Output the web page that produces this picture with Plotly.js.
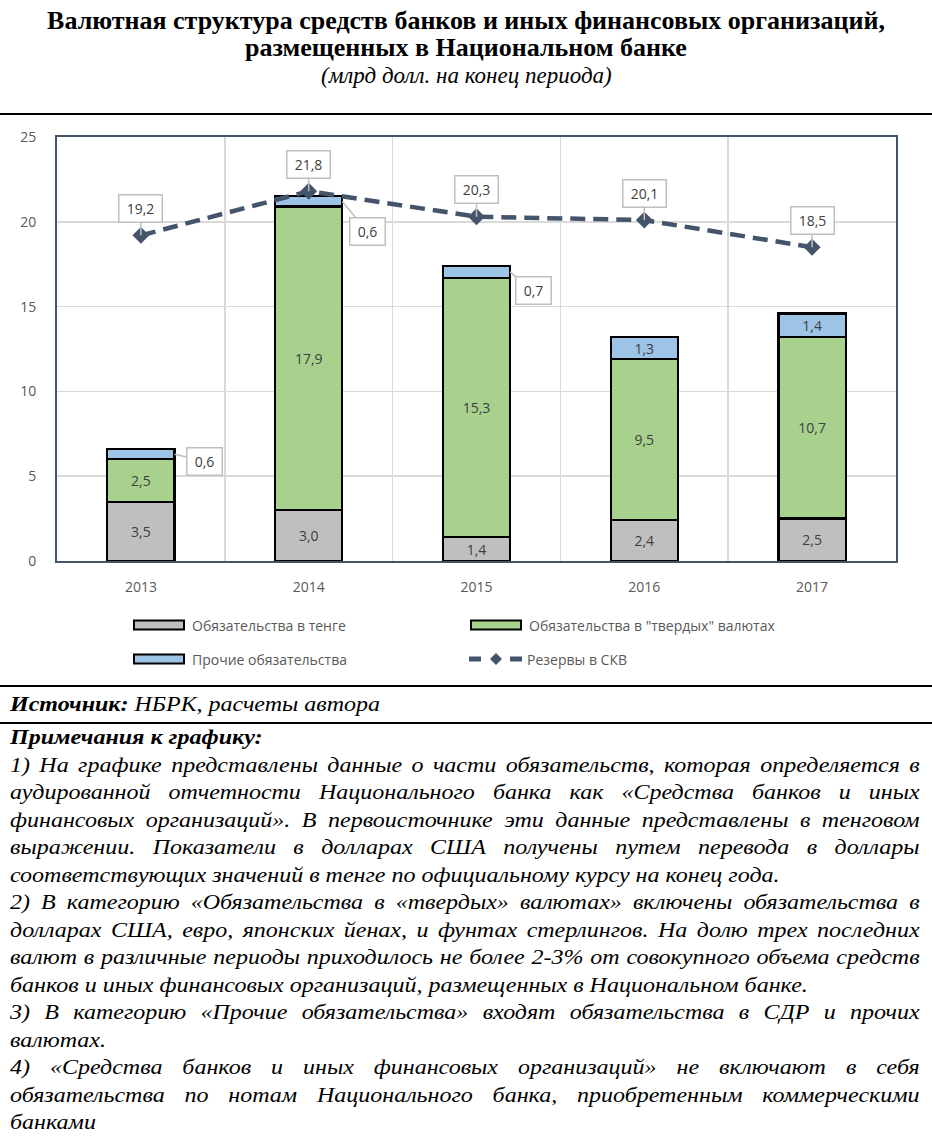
<!DOCTYPE html>
<html>
<head>
<meta charset="utf-8">
<script src="https://cdn.plot.ly/plotly-3.0.1.min.js"></script>
<style>
  html, body { margin: 0; padding: 0; background: #fff; }
  #chart { width: 932px; height: 685px; }
  #src { border-top: 2px solid #000; border-bottom: 2px solid #000; height: 35px; line-height: 35px;
         font-family: 'Liberation Serif', 'Times New Roman', serif; font-style: italic; font-size: 20px; padding-left: 10px; overflow: hidden; }
  #notes { padding: 0 10px; font-family: 'Liberation Serif', 'Times New Roman', serif; font-style: italic;
           font-size: 20px; line-height: 27.5px; text-align: justify; }
  .sx { width: 758px; transform: scaleX(1.2); transform-origin: 0 0; }
  #notes p { margin: 0; }
</style>
</head>
<body>
<div id="chart"></div>
<div id="src"><div class="sx"><b>Источник:</b> НБРК, расчеты автора</div></div>
<div id="notes"><div class="sx">
  <p><b>Примечания к графику:</b></p>
  <p>1) На графике представлены данные о части обязательств, которая определяется в аудированной отчетности Национального банка как «Средства банков и иных финансовых организаций». В первоисточнике эти данные представлены в тенговом выражении. Показатели в долларах США получены путем перевода в доллары соответствующих значений в тенге по официальному курсу на конец года.</p>
  <p>2) В категорию «Обязательства в «твердых» валютах» включены обязательства в долларах США, евро, японских йенах, и фунтах стерлингов. На долю трех последних валют в различные периоды приходилось не более 2-3% от совокупного объема средств банков и иных финансовых организаций, размещенных в Национальном банке.</p>
  <p>3) В категорию «Прочие обязательства» входят обязательства в СДР и прочих валютах.</p>
  <p>4) «Средства банков и иных финансовых организаций» не включают в себя обязательства по нотам Национального банка, приобретенным коммерческими банками</p>
</div></div>
<script>
// ---- data ----
const years = ['2013', '2014', '2015', '2016', '2017'];
const tenge = [3.5, 3.0, 1.4, 2.4, 2.5];
const hard = [2.5, 17.9, 15.3, 9.5, 10.7];
const other = [0.6, 0.6, 0.7, 1.3, 1.4];
const reserves = [19.2, 21.8, 20.3, 20.1, 18.5];
const otherInside = [false, false, false, true, true];
const names = ['Обязательства в тенге', 'Обязательства в "твердых" валютах', 'Прочие обязательства', 'Резервы в СКВ'];
const titleLines = ['Валютная структура средств банков и иных финансовых организаций,', 'размещенных в Национальном банке'];
const subtitle = '(млрд долл. на конец периода)';

// ---- style ----
const C_GRAY = '#bfbfbf', C_GREEN = '#a9d18e', C_BLUE = '#9dc3e6', C_LINE = '#44546a';
const TXT = '#404040', AX = '#595959';
const FONT = 'Open Sans, Noto Sans, sans-serif';
const SERIF = 'Liberation Serif, Times New Roman, serif';
const BAR_W = 0.4;
const PL = 57, PT = 137, PW = 839, PH = 424, W = 932, H = 685;
const px2x = p => (p - PL) / PW;
const px2y = p => (PT + PH - p) / PH;
const fmt = v => v.toFixed(1).replace('.', ',');
const xs = years.map((_, i) => i);

const barCommon = {
  type: 'bar', x: xs, width: BAR_W,
  textposition: 'inside', insidetextanchor: 'middle', constraintext: 'none', textangle: 0,
  textfont: { family: FONT, size: 14, color: TXT },
  hoverinfo: 'skip'
};
const traces = [
  Object.assign({}, barCommon, { name: names[0], y: tenge, text: tenge.map(fmt), texttemplate: '%{text}',
    marker: { color: C_GRAY, line: { color: '#000', width: 2.25 } } }),
  Object.assign({}, barCommon, { name: names[1], y: hard, text: hard.map(fmt), texttemplate: '%{text}',
    marker: { color: C_GREEN, line: { color: '#000', width: 2.25 } } }),
  Object.assign({}, barCommon, { name: names[2], y: other, text: other.map((v, i) => otherInside[i] ? fmt(v) : ''), texttemplate: '%{text}',
    marker: { color: C_BLUE, line: { color: '#000', width: 2.25 } } }),
  { type: 'scatter', mode: 'lines+markers', name: names[3], x: xs, y: reserves,
    line: { color: C_LINE, width: 4.5, dash: '15px,8px' },
    marker: { symbol: 'diamond', size: 13, color: C_LINE }, hoverinfo: 'skip' }
];

const boxStyle = {
  showarrow: true, arrowhead: 0, arrowcolor: '#bfbfbf', arrowwidth: 1.5, standoff: 0,
  bgcolor: '#ffffff', bordercolor: '#bfbfbf', borderwidth: 1.5, borderpad: 3, height: 20,
  font: { family: FONT, size: 14, color: TXT }
};
const annotations = [];
reserves.forEach((v, i) => {
  annotations.push(Object.assign({}, boxStyle, { x: i, y: v, xref: 'x', yref: 'y', text: fmt(v), ax: 0, ay: -27, width: 36 }));
});
const otherOffsets = [[30, 7], [25, 30], [23, 19]];
let k = 0;
other.forEach((v, i) => {
  if (!otherInside[i]) {
    const off = otherOffsets[k++];
    annotations.push(Object.assign({}, boxStyle, { x: i + BAR_W / 2, y: tenge[i] + hard[i] + v / 2, xref: 'x', yref: 'y',
      text: fmt(v), ax: off[0], ay: off[1], width: 28 }));
  }
});
// second title line and subtitle
annotations.push({ xref: 'paper', yref: 'paper', x: px2x(W / 2), y: px2y(47), xanchor: 'center', yanchor: 'middle', showarrow: false,
  text: '<b>' + titleLines[1] + '</b>', font: { family: SERIF, size: 26, color: '#000' } });
annotations.push({ xref: 'paper', yref: 'paper', x: px2x(W / 2), y: px2y(75), xanchor: 'center', yanchor: 'middle', showarrow: false,
  text: '<i>' + subtitle + '</i>', font: { family: SERIF, size: 23, color: '#000' } });

// custom legend
const shapes = [];
const legendItems = [
  { name: names[0], color: C_GRAY, x: 134, y: 625 },
  { name: names[1], color: C_GREEN, x: 471, y: 625 },
  { name: names[2], color: C_BLUE, x: 134, y: 659 },
  { name: names[3], line: true, x: 469, y: 659 }
];
legendItems.forEach(it => {
  if (!it.line) {
    shapes.push({ type: 'rect', xref: 'paper', yref: 'paper', x0: px2x(it.x), x1: px2x(it.x + 50), y0: px2y(it.y + 4.5), y1: px2y(it.y - 4.5),
      fillcolor: it.color, line: { color: '#000', width: 2 } });
  } else {
    shapes.push({ type: 'rect', xref: 'paper', yref: 'paper', x0: px2x(it.x), x1: px2x(it.x + 12), y0: px2y(it.y + 2.5), y1: px2y(it.y - 2.5),
      fillcolor: C_LINE, line: { width: 0 } });
    shapes.push({ type: 'rect', xref: 'paper', yref: 'paper', x0: px2x(it.x + 41), x1: px2x(it.x + 53), y0: px2y(it.y + 2.5), y1: px2y(it.y - 2.5),
      fillcolor: C_LINE, line: { width: 0 } });
    const cx = it.x + 27, cy = it.y;
    shapes.push({ type: 'path', xref: 'paper', yref: 'paper',
      path: `M${px2x(cx - 6)},${px2y(cy)} L${px2x(cx)},${px2y(cy - 6)} L${px2x(cx + 6)},${px2y(cy)} L${px2x(cx)},${px2y(cy + 6)} Z`,
      fillcolor: C_LINE, line: { width: 0 } });
  }
  annotations.push({ xref: 'paper', yref: 'paper', x: px2x(it.x + 56), y: px2y(it.y), xanchor: 'left', yanchor: 'middle',
    showarrow: false, text: it.name, font: { family: FONT, size: 14, color: AX } });
});
// horizontal rule under title
shapes.push({ type: 'line', xref: 'paper', yref: 'paper', x0: px2x(0), x1: px2x(W), y0: px2y(114), y1: px2y(114), line: { color: '#000', width: 2 } });

const layout = {
  width: W, height: H,
  margin: { l: PL, r: W - PL - PW, t: PT, b: H - PT - PH, pad: 0 },
  paper_bgcolor: '#fff', plot_bgcolor: '#fff',
  separators: ', ',
  barmode: 'stack', bargap: 0.6,
  showlegend: false,
  title: { text: '<b>' + titleLines[0] + '</b>', font: { family: SERIF, size: 26, color: '#000' },
    x: 0.5, xanchor: 'center', xref: 'container', y: 1 - 20 / H, yanchor: 'middle', yref: 'container' },
  xaxis: { range: [-0.5, 4.5], tickvals: xs, ticktext: years, showgrid: false, zeroline: false,
    minor: { tick0: -0.5, dtick: 1, showgrid: true, gridcolor: '#d9d9d9', gridwidth: 1.5, ticklen: 0 },
    showline: true, mirror: true, linecolor: C_LINE, linewidth: 2, ticks: '', ticklabelstandoff: 12,
    tickfont: { family: FONT, size: 14, color: AX }, fixedrange: true },
  yaxis: { range: [0, 25], dtick: 5, tick0: 0, showgrid: true, gridcolor: '#d9d9d9', gridwidth: 1.5, zeroline: false,
    showline: true, mirror: true, linecolor: C_LINE, linewidth: 2, ticks: '', ticklabelstandoff: 16,
    tickfont: { family: FONT, size: 14, color: AX }, fixedrange: true },
  annotations: annotations,
  shapes: shapes
};
Plotly.newPlot('chart', traces, layout, { displayModeBar: false, staticPlot: true });
</script>
</body>
</html>
